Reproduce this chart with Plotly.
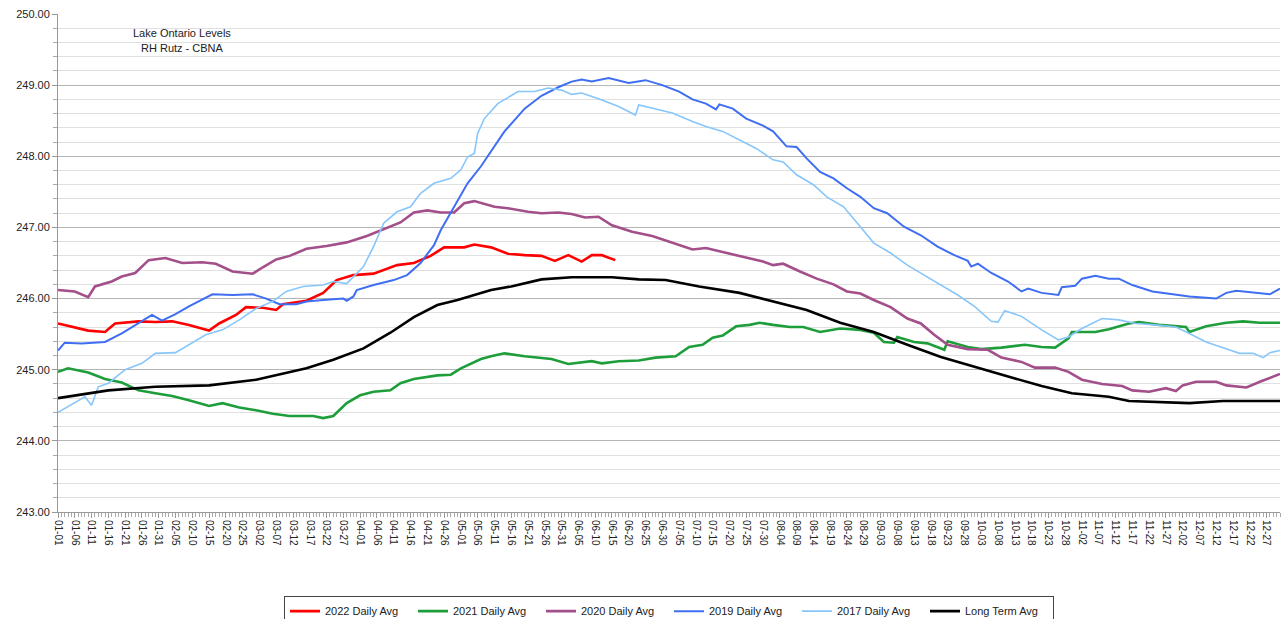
import plotly.graph_objects as go
import pandas as pd

# ---- data (day index 0 = Jan 1, non-leap year) ----
lt_day = [0, 9, 15, 29, 45, 59, 74, 82, 91, 99, 106, 113, 119, 129, 135, 144, 153, 165, 173, 181, 191, 203, 213, 223,
          233, 243, 253, 263, 273, 283, 293, 302, 313, 319, 332, 337, 347, 364]
lt_val = [244.60, 244.66, 244.71, 244.76, 244.78, 244.86, 245.02, 245.14, 245.30, 245.52, 245.74, 245.91, 245.98,
          246.12, 246.17, 246.27, 246.30, 246.30, 246.27, 246.26, 246.17, 246.08, 245.96, 245.84, 245.66, 245.53,
          245.35, 245.18, 245.04, 244.90, 244.77, 244.67, 244.62, 244.56, 244.54, 244.53, 244.56, 244.56]

y2022_day = [0, 5, 9, 14, 17, 24, 29, 34, 39, 45, 48, 53, 56, 61, 65, 67, 74, 79, 83, 88, 94, 101, 106, 111, 115, 121,
             124, 129, 134, 139, 144, 148, 152, 156, 159, 162, 166]
y2022_val = [245.65, 245.60, 245.55, 245.53, 245.65, 245.68, 245.67, 245.68, 245.63, 245.55, 245.65, 245.77, 245.88,
             245.87, 245.84, 245.92, 245.97, 246.08, 246.26, 246.33, 246.35, 246.47, 246.50, 246.60, 246.72, 246.72,
             246.76, 246.72, 246.63, 246.61, 246.60, 246.53, 246.61, 246.52, 246.61, 246.61, 246.54]

y2021_day = [0, 3, 9, 14, 19, 24, 29, 34, 39, 45, 49, 54, 59, 64, 69, 76, 79, 82, 86, 90, 94, 99, 102, 106, 113, 117,
             120, 126, 129, 133, 139, 147, 152, 156, 159, 162, 167, 173, 178, 184, 188, 192, 195, 198, 202, 206, 209,
             213, 218, 222, 227, 233, 239, 243, 246, 249, 250, 255, 259, 264, 265, 271, 275, 281, 288, 293, 297, 301,
             302, 309, 313, 319, 322, 328, 336, 337, 342, 348, 353, 358, 364]
y2021_val = [244.97, 245.02, 244.96, 244.87, 244.82, 244.71, 244.67, 244.63, 244.57, 244.49, 244.53, 244.47, 244.43,
             244.38, 244.35, 244.35, 244.32, 244.35, 244.53, 244.64, 244.69, 244.71, 244.81, 244.87, 244.92, 244.93,
             245.02, 245.15, 245.19, 245.23, 245.19, 245.15, 245.08, 245.10, 245.12, 245.09, 245.12, 245.13, 245.17,
             245.19, 245.32, 245.35, 245.45, 245.48, 245.61, 245.63, 245.66, 245.63, 245.60, 245.60, 245.53, 245.58,
             245.56, 245.52, 245.39, 245.38, 245.46, 245.39, 245.37, 245.28, 245.40, 245.32, 245.29, 245.31, 245.35,
             245.32, 245.31, 245.44, 245.53, 245.53, 245.57, 245.65, 245.67, 245.63, 245.60, 245.53, 245.61, 245.66,
             245.68, 245.66, 245.66]

y2020_day = [0, 5, 9, 11, 16, 19, 23, 27, 32, 37, 43, 47, 52, 58, 61, 65, 69, 74, 80, 86, 92, 98, 102, 106, 110, 114,
             118, 121, 124, 130, 134, 140, 144, 149, 153, 157, 161, 165, 171, 177, 183, 189, 193, 199, 205, 210, 213,
             216, 221, 226, 231, 235, 239, 243, 248, 253, 257, 261, 265, 271, 277, 281, 287, 291, 297, 301, 305, 311,
             317, 320, 325, 330, 333, 335, 339, 345, 348, 354, 358, 364]
y2020_val = [246.12, 246.10, 246.02, 246.17, 246.24, 246.31, 246.36, 246.54, 246.57, 246.50, 246.51, 246.49, 246.38,
             246.35, 246.44, 246.55, 246.60, 246.70, 246.74, 246.79, 246.88, 247.00, 247.07, 247.21, 247.24, 247.21,
             247.21, 247.34, 247.37, 247.29, 247.27, 247.22, 247.20, 247.21, 247.19, 247.14, 247.15, 247.03, 246.94,
             246.88, 246.79, 246.69, 246.71, 246.64, 246.57, 246.52, 246.47, 246.49, 246.38, 246.28, 246.20, 246.10,
             246.07, 245.98, 245.88, 245.72, 245.65, 245.49, 245.35, 245.29, 245.28, 245.17, 245.11, 245.03, 245.03,
             244.97, 244.86, 244.80, 244.77, 244.71, 244.69, 244.74, 244.70, 244.78, 244.83, 244.83, 244.78, 244.75,
             244.83, 244.94]

y2019_day = [0, 2, 7, 14, 19, 23, 28, 31, 35, 39, 46, 52, 58, 62, 66, 71, 74, 79, 85, 86, 88, 89, 94, 100, 104, 108,
             112, 114, 118, 122, 126, 129, 133, 139, 144, 149, 153, 156, 159, 164, 170, 175, 180, 185, 189, 193, 196,
             197, 201, 205, 210, 213, 217, 220, 223, 227, 231, 235, 239, 243, 247, 252, 257, 262, 267, 271, 272, 274,
             278, 283, 287, 289, 293, 298, 299, 303, 305, 309, 313, 316, 320, 326, 333, 337, 345, 348, 351, 361, 364]
y2019_val = [245.27, 245.38, 245.37, 245.39, 245.51, 245.63, 245.77, 245.69, 245.78, 245.89, 246.06, 246.05, 246.06,
             246.00, 245.92, 245.92, 245.96, 245.98, 246.00, 245.97, 246.03, 246.12, 246.19, 246.26, 246.33, 246.50,
             246.75, 246.96, 247.29, 247.62, 247.86, 248.07, 248.35, 248.67, 248.85, 248.97, 249.05, 249.08, 249.05,
             249.10, 249.03, 249.07, 249.00, 248.91, 248.80, 248.74, 248.66, 248.73, 248.67, 248.53, 248.43, 248.35,
             248.14, 248.13, 247.97, 247.78, 247.69, 247.55, 247.43, 247.27, 247.20, 247.01, 246.89, 246.73, 246.61,
             246.53, 246.45, 246.49, 246.36, 246.24, 246.10, 246.14, 246.08, 246.05, 246.16, 246.18, 246.28, 246.32,
             246.28, 246.28, 246.19, 246.10, 246.06, 246.03, 246.00, 246.08, 246.11, 246.06, 246.14]

y2017_day = [0, 5, 8, 10, 12, 15, 20, 25, 29, 35, 39, 44, 49, 54, 59, 64, 68, 73, 79, 82, 86, 88, 91, 94, 97, 101, 105,
             108, 112, 117, 120, 122, 124, 125, 127, 131, 137, 142, 146, 150, 153, 156, 161, 167, 172, 173, 179, 183,
             189, 193, 198, 203, 208, 213, 216, 220, 225, 229, 234, 239, 243, 248, 253, 258, 263, 268, 273, 278, 280,
             282, 287, 293, 298, 301, 305, 311, 316, 321, 327, 333, 337, 342, 347, 352, 356, 359, 361, 364]
y2017_val = [244.40, 244.53, 244.62, 244.50, 244.76, 244.81, 245.00, 245.09, 245.23, 245.24, 245.35, 245.49, 245.56,
             245.70, 245.86, 245.96, 246.10, 246.17, 246.19, 246.24, 246.21, 246.31, 246.45, 246.73, 247.06, 247.22,
             247.29, 247.48, 247.62, 247.69, 247.81, 247.99, 248.04, 248.32, 248.53, 248.74, 248.91, 248.91, 248.96,
             248.93, 248.87, 248.89, 248.81, 248.70, 248.58, 248.72, 248.65, 248.61, 248.49, 248.42, 248.35, 248.23,
             248.11, 247.95, 247.92, 247.74, 247.60, 247.43, 247.29, 247.01, 246.78, 246.64, 246.47, 246.33, 246.19,
             246.05, 245.89, 245.68, 245.67, 245.83, 245.75, 245.56, 245.42, 245.46, 245.58, 245.72, 245.70, 245.65,
             245.63, 245.60, 245.51, 245.39, 245.31, 245.23, 245.23, 245.17, 245.24, 245.27]

# tick labels: every 5th day of the year, "MM-DD"
all_days = pd.date_range("2021-01-01", "2021-12-31", freq="D")
tick_days = list(range(0, 365, 5))
tick_labels = [all_days[d].strftime("%m-%d") for d in tick_days]

series = [
    ("2022 Daily Avg", y2022_day, y2022_val, "#ff0000", 2.6),
    ("2021 Daily Avg", y2021_day, y2021_val, "#1e9e3a", 2.6),
    ("2020 Daily Avg", y2020_day, y2020_val, "#a24f8a", 2.6),
    ("2019 Daily Avg", y2019_day, y2019_val, "#3f6ef3", 2.0),
    ("2017 Daily Avg", y2017_day, y2017_val, "#86c6fb", 1.6),
    ("Long Term Avg", lt_day, lt_val, "#000000", 2.6),
]

FONT = "Liberation Sans"
fig = go.Figure()
for name, d, v, c, w in series:
    fig.add_trace(go.Scatter(x=d, y=v, mode="lines", name=name,
                             line=dict(color=c, width=w)))

fig.update_layout(
    width=1283, height=619,
    margin=dict(l=58, r=3, t=14, b=107, autoexpand=False),
    paper_bgcolor="white", plot_bgcolor="white",
    font=dict(family=FONT, size=11, color="#222"),
    showlegend=True,
    legend=dict(orientation="h", x=0.5, xanchor="center", y=-0.168, yanchor="top",
                bordercolor="#444", borderwidth=1, font=dict(size=11, family=FONT),
                entrywidth=83, entrywidthmode="pixels", itemwidth=30, tracegroupgap=0),
    annotations=[
        dict(text="Lake Ontario Levels", x=0.1015, y=0.962, xref="paper", yref="paper",
             xanchor="center", yanchor="middle",
             showarrow=False, font=dict(size=11, family=FONT, color="#222")),
        dict(text="RH Rutz - CBNA", x=0.1015, y=0.932, xref="paper", yref="paper",
             xanchor="center", yanchor="middle",
             showarrow=False, font=dict(size=11, family=FONT, color="#222")),
    ],
)

fig.update_xaxes(
    range=[0, 364], tickmode="array", tickvals=tick_days, ticktext=tick_labels,
    tickangle=90, tickfont=dict(size=10, family=FONT, color="#222"),
    showgrid=False, zeroline=False, automargin=False,
    showline=True, linecolor="#999", linewidth=1,
    ticks="outside", ticklen=5, tickcolor="#999",
    minor=dict(dtick=1, tick0=0, ticks="outside", ticklen=4, tickcolor="#aaa", showgrid=False),
)
fig.update_yaxes(
    range=[243, 250], dtick=1, tick0=243, tickformat=".2f",
    tickfont=dict(size=11, family=FONT, color="#222"),
    showgrid=True, gridcolor="#b5b5b5", gridwidth=1, zeroline=False, automargin=False,
    showline=True, linecolor="#999", linewidth=1,
    ticks="outside", ticklen=5, tickcolor="#999",
    minor=dict(dtick=0.2, ticks="outside", ticklen=4, tickcolor="#aaa",
               showgrid=True, gridcolor="#e0e0e0", gridwidth=1),
)

fig.write_html("out.html", config={"displayModeBar": False},
               post_script="document.body.style.margin='0';")
